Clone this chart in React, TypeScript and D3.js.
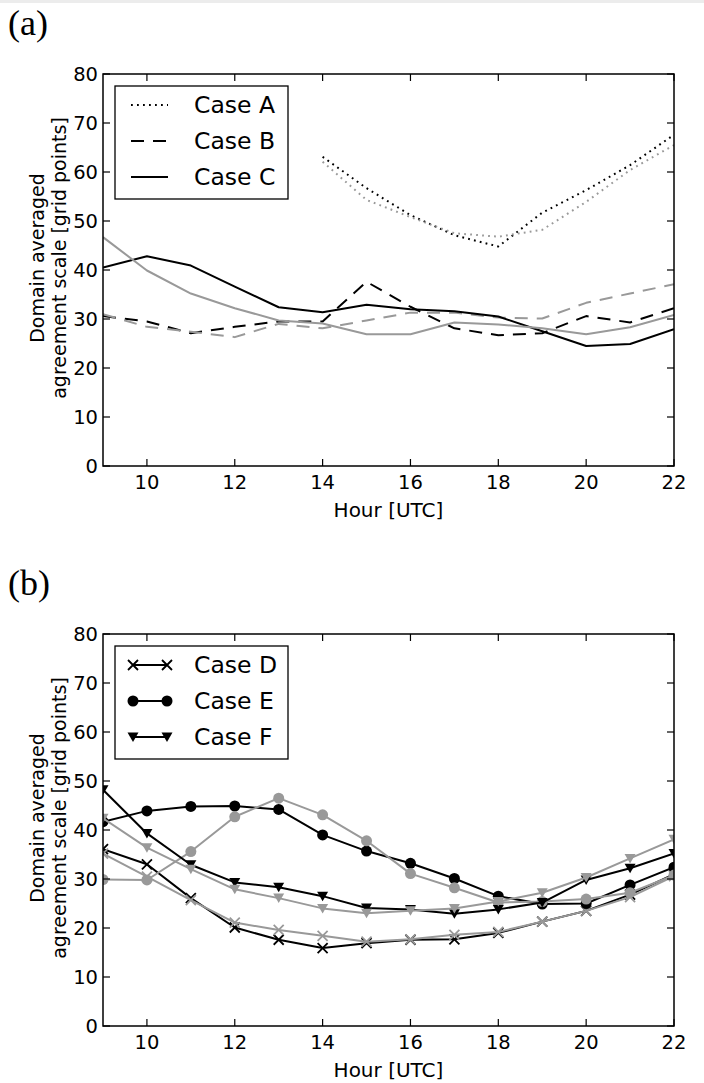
import React from 'react';
import * as d3 from 'd3';

// hours on the x axis
const hours = [9, 10, 11, 12, 13, 14, 15, 16, 17, 18, 19, 20, 21, 22];
const hoursA = [14, 15, 16, 17, 18, 19, 20, 21, 22];

// panel (a)
const caseABlack = [63.1, 56.7, 51.2, 47.1, 44.8, 51.7, 56.3, 61.4, 67.6];
const caseAGray = [62.1, 54.3, 50.8, 47.5, 46.8, 48.2, 53.9, 60.4, 65.5];
const caseBBlack = [30.6, 29.5, 27.1, 28.4, 29.5, 29.5, 37.6, 32.5, 28.1, 26.7, 27.1, 30.6, 29.3, 32.2];
const caseBGray = [31.0, 28.4, 27.4, 26.3, 29.0, 28.1, 29.7, 31.3, 31.3, 30.3, 30.1, 33.3, 35.2, 37.1];
const caseCBlack = [40.5, 42.8, 40.9, 36.6, 32.4, 31.4, 32.9, 32.0, 31.6, 30.5, 27.5, 24.5, 24.9, 27.9];
const caseCGray = [46.7, 39.9, 35.2, 32.2, 29.7, 29.1, 26.9, 26.9, 29.3, 28.9, 28.1, 26.9, 28.3, 30.8];

// panel (b)
const caseDBlack = [36.1, 33.0, 26.1, 20.1, 17.6, 15.9, 16.9, 17.6, 17.7, 19.0, 21.3, 23.5, 26.8, 31.0];
const caseDGray = [35.2, 30.5, 25.7, 21.1, 19.6, 18.4, 17.2, 17.7, 18.6, 19.2, 21.3, 23.5, 26.3, 30.6];
const caseEBlack = [41.7, 43.9, 44.8, 44.9, 44.2, 39.0, 35.7, 33.2, 30.1, 26.5, 24.9, 25.0, 28.8, 32.4];
const caseEGray = [29.9, 29.8, 35.6, 42.7, 46.5, 43.1, 37.8, 31.1, 28.2, 25.2, 25.4, 25.9, 27.2, 30.8];
const caseFBlack = [48.2, 39.3, 32.9, 29.3, 28.3, 26.5, 24.1, 23.8, 22.9, 23.8, 25.2, 29.8, 32.2, 35.2];
const caseFGray = [42.4, 36.4, 32.0, 27.9, 26.1, 24.0, 23.0, 23.5, 24.0, 25.4, 27.2, 30.3, 34.2, 38.1];

const legendA = ['Case A', 'Case B', 'Case C'];
const legendB = ['Case D', 'Case E', 'Case F'];

const yTicks = [0, 10, 20, 30, 40, 50, 60, 70, 80];
const xTicks = [10, 12, 14, 16, 18, 20, 22];

const FONT = "'DejaVu Sans', sans-serif";
const BLACK = '#000';
const GRAY = '#999';
const DOTTED = '1.8 4.2';
const DASHED = '13 9';

type Series = {
  x: number[];
  y: number[];
  color: string;
  dash?: string;
  marker?: 'x' | 'o' | 'v';
};

type LegendItem = { label: string; dash?: string; marker?: 'x' | 'o' | 'v' };

const left = 103;
const right = 674;
const plotH = 392;

function Marker({ kind, x, y, color }: { kind: string; x: number; y: number; color: string }) {
  if (kind === 'o') return <circle cx={x} cy={y} r={5.5} fill={color} />;
  if (kind === 'v') {
    const p = `M${x - 5.5},${y - 4.5}L${x + 5.5},${y - 4.5}L${x},${y + 5}Z`;
    return <path d={p} fill={color} />;
  }
  return (
    <path
      d={`M${x - 5},${y - 5}L${x + 5},${y + 5}M${x - 5},${y + 5}L${x + 5},${y - 5}`}
      stroke={color}
      strokeWidth={1.8}
      fill="none"
    />
  );
}

function Panel({ top, tag, series, legend, id }: { top: number; tag: string; series: Series[]; legend: LegendItem[]; id: string }) {
  const x = d3.scaleLinear().domain([9, 22]).range([left, right]);
  const y = d3.scaleLinear().domain([0, 80]).range([top + plotH, top]);
  const line = d3
    .line<[number, number]>()
    .x((d) => x(d[0]))
    .y((d) => y(d[1]));
  const bottom = top + plotH;
  const midY = (top + bottom) / 2 - 12;

  const lgLeft = 115;
  const lgTop = top + 12;
  const rowY = (i: number) => lgTop + 19 + i * 36;

  return (
    <g>
      <text x={8} y={top - 39} fontFamily="'Liberation Serif', 'Times New Roman', serif" fontSize={36}>
        {tag}
      </text>
      <defs>
        <clipPath id={id}>
          <rect x={left} y={top} width={right - left} height={plotH} />
        </clipPath>
      </defs>
      <g clipPath={`url(#${id})`}>
        {series.map((s, i) => {
          const pts = s.x.map((h, j) => [h, s.y[j]] as [number, number]);
          return (
            <g key={i}>
              <path
                d={line(pts) || ''}
                fill="none"
                stroke={s.color}
                strokeWidth={2}
                strokeDasharray={s.dash}
                strokeLinejoin="round"
              />
              {s.marker &&
                pts.map((p, j) => <Marker key={j} kind={s.marker!} x={x(p[0])} y={y(p[1])} color={s.color} />)}
            </g>
          );
        })}
      </g>
      {/* frame */}
      <rect x={left} y={top} width={right - left} height={plotH} fill="none" stroke={BLACK} strokeWidth={1.5} />
      {/* ticks */}
      {xTicks.map((t) => (
        <g key={'x' + t}>
          <line x1={x(t)} x2={x(t)} y1={bottom} y2={bottom - 7} stroke={BLACK} strokeWidth={1.2} />
          <line x1={x(t)} x2={x(t)} y1={top} y2={top + 7} stroke={BLACK} strokeWidth={1.2} />
          <text x={x(t)} y={bottom + 23} textAnchor="middle" fontFamily={FONT} fontSize={19.5}>
            {t}
          </text>
        </g>
      ))}
      {yTicks.map((t) => (
        <g key={'y' + t}>
          <line x1={left} x2={left + 7} y1={y(t)} y2={y(t)} stroke={BLACK} strokeWidth={1.2} />
          <line x1={right} x2={right - 7} y1={y(t)} y2={y(t)} stroke={BLACK} strokeWidth={1.2} />
          <text x={98} y={y(t)} dy="0.36em" textAnchor="end" fontFamily={FONT} fontSize={19.5}>
            {t}
          </text>
        </g>
      ))}
      <text x={(left + right) / 2} y={bottom + 51} textAnchor="middle" fontFamily={FONT} fontSize={20}>
        Hour [UTC]
      </text>
      <text transform={`translate(44,${midY}) rotate(-90)`} textAnchor="middle" fontFamily={FONT} fontSize={19}>
        Domain averaged
      </text>
      <text transform={`translate(66,${midY}) rotate(-90)`} textAnchor="middle" fontFamily={FONT} fontSize={19}>
        agreement scale [grid points]
      </text>
      {/* legend */}
      <rect x={lgLeft} y={lgTop} width={173} height={113} fill="#fff" stroke={BLACK} strokeWidth={1.3} />
      {legend.map((l, i) => (
        <g key={l.label}>
          <line
            x1={l.marker ? 133 : 131}
            x2={l.marker ? 167 : 168}
            y1={rowY(i)}
            y2={rowY(i)}
            stroke={BLACK}
            strokeWidth={2}
            strokeDasharray={l.dash}
          />
          {l.marker && <Marker kind={l.marker} x={133} y={rowY(i)} color={BLACK} />}
          {l.marker && <Marker kind={l.marker} x={167} y={rowY(i)} color={BLACK} />}
          <text x={194} y={rowY(i)} dy="0.36em" fontFamily={FONT} fontSize={23.5}>
            {l.label}
          </text>
        </g>
      ))}
    </g>
  );
}

export default function App() {
  const seriesA: Series[] = [
    { x: hoursA, y: caseABlack, color: BLACK, dash: DOTTED },
    { x: hoursA, y: caseAGray, color: GRAY, dash: DOTTED },
    { x: hours, y: caseBBlack, color: BLACK, dash: DASHED },
    { x: hours, y: caseBGray, color: GRAY, dash: DASHED },
    { x: hours, y: caseCBlack, color: BLACK },
    { x: hours, y: caseCGray, color: GRAY },
  ];
  const seriesB: Series[] = [
    { x: hours, y: caseDBlack, color: BLACK, marker: 'x' },
    { x: hours, y: caseDGray, color: GRAY, marker: 'x' },
    { x: hours, y: caseEBlack, color: BLACK, marker: 'o' },
    { x: hours, y: caseEGray, color: GRAY, marker: 'o' },
    { x: hours, y: caseFBlack, color: BLACK, marker: 'v' },
    { x: hours, y: caseFGray, color: GRAY, marker: 'v' },
  ];
  const lgA: LegendItem[] = [
    { label: legendA[0], dash: DOTTED },
    { label: legendA[1], dash: DASHED },
    { label: legendA[2] },
  ];
  const lgB: LegendItem[] = [
    { label: legendB[0], marker: 'x' },
    { label: legendB[1], marker: 'o' },
    { label: legendB[2], marker: 'v' },
  ];
  return (
    <svg width={704} height={1083} style={{ position: 'absolute', left: 0, top: 0, background: '#fff' }}>
      <rect x={0} y={0} width={704} height={1083} fill="#fff" />
      <rect x={0} y={0} width={704} height={3} fill="#ececec" />
      <Panel top={74} tag="(a)" series={seriesA} legend={lgA} id="clipA" />
      <Panel top={634} tag="(b)" series={seriesB} legend={lgB} id="clipB" />
    </svg>
  );
}
